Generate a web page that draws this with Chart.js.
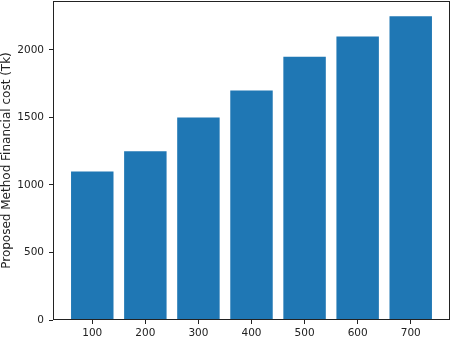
<!DOCTYPE html>
<html>
<head>
<meta charset="utf-8">
<script src="https://cdn.jsdelivr.net/npm/chart.js@4"></script>
<style>
  html, body { margin: 0; padding: 0; background: #fff; }
  #wrap { width: 454px; height: 337px; }
</style>
</head>
<body>
<div id="wrap"><canvas id="c" width="454" height="337"></canvas></div>
<script>
const categories = ["100", "200", "300", "400", "500", "600", "700"];
const costValues = [1100, 1250, 1500, 1700, 1950, 2100, 2250];
const yTicks = [0, 500, 1000, 1500, 2000];
const yAxisTitle = "Proposed Method Financial cost (Tk)";

const frame = {
  id: 'frame',
  afterDraw(chart) {
    const a = chart.chartArea, ctx = chart.ctx;
    ctx.save();
    ctx.strokeStyle = '#222';
    ctx.lineWidth = 1;
    ctx.strokeRect(Math.round(a.left) + 0.5, Math.round(a.top) + 0.5,
      Math.round(a.right - a.left) - 1, Math.round(a.bottom - a.top) - 1);
    ctx.restore();
  }
};

const tickFont = { family: "'DejaVu Sans', sans-serif", size: 10.5 };
const titleFont = { family: "'DejaVu Sans', sans-serif", size: 12 };

new Chart(document.getElementById('c'), {
  type: 'bar',
  data: {
    datasets: [{
      data: costValues.map((v, i) => ({ x: i, y: v })),
      backgroundColor: '#1f77b4',
      borderWidth: 0,
      categoryPercentage: 1,
      barPercentage: 0.8
    }]
  },
  options: {
    responsive: false,
    animation: false,
    layout: { padding: { top: 1, right: 4, left: 0, bottom: 0 } },
    plugins: { legend: { display: false }, tooltip: { enabled: false } },
    scales: {
      x: {
        type: 'linear',
        min: -0.74,
        max: 6.74,
        offset: false,
        grid: { offset: false, drawOnChartArea: false, drawTicks: true, tickLength: 4, tickColor: '#222', color: '#222' },
        border: { display: false },
        afterBuildTicks(scale) { scale.ticks = categories.map((c, i) => ({ value: i })); },
        afterFit(scale) { scale.height = 17; scale.paddingLeft = 0; scale.paddingRight = 0; },
        ticks: {
          color: '#222',
          font: tickFont,
          padding: 3,
          maxRotation: 0,
          autoSkip: false,
          callback: (v) => categories[v]
        }
      },
      y: {
        min: 0,
        max: 2362.5,
        grid: { drawOnChartArea: false, drawTicks: true, tickLength: 4, tickColor: '#222', color: '#222' },
        border: { display: false },
        afterBuildTicks(scale) { scale.ticks = yTicks.map(v => ({ value: v })); },
        afterFit(scale) { scale.width = 53; scale.paddingTop = 0; scale.paddingBottom = 0; },
        title: {
          display: true,
          text: yAxisTitle,
          color: '#222',
          font: titleFont,
          padding: { top: 0, bottom: 0 }
        },
        ticks: {
          color: '#222',
          font: tickFont,
          padding: 5,
          callback: (v) => String(v)
        }
      }
    }
  },
  plugins: [frame]
});
</script>
</body>
</html>
